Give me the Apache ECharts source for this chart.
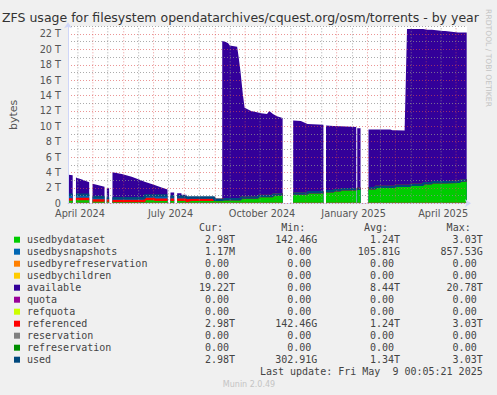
<!DOCTYPE html>
<html><head><meta charset="utf-8">
<script src="https://cdn.jsdelivr.net/npm/echarts@6/dist/echarts.min.js"></script>
<style>html,body{margin:0;padding:0;background:#f0f0f0}#c{width:497px;height:395px}</style>
</head><body><div id="c"></div>
<script>
// x positions: days from the left edge of the 400-day window (1 px per day)
const days = [0.5,4.7,6, 8,14,21.3,23, 24.7,36.7,38, 39,41.3,43,
  44.7,54,64,74,77,77.01,84,87,87.01,94,100,101.5,
  103,106.7,108, 109.7,114,114.01,119,119.01,124,147,147.01,155,
  155.01,158,161,162.5,170,171.5,173.3,174,174.01,175.7,177.5,184,191,191.01,194,200,202.3,206,206.01,210,215.7,221,
  226.3,234,240.7,240.71,256.7,258,
  259.3,267,267.01,274,274.01,289.7,290.2,
  290.7,294,298,
  302,309,309.01,324,326,329,329.01,338.3,
  340.7,344,344.01,357,357.01,361,365.7,365.71,377,379,379.01,392,394,394.01,400.7];
// values in T (terabytes); null = no data
const usedbydataset = [0.49,0.49,null, 0.55,0.55,0.55,null, 0.38,0.38,null, 0.35,0.35,null,
  0.30,0.30,0.30,0.30,0.30,0.56,0.56,0.56,0.45,0.45,0.45,null,
  0.45,0.45,null, 0.45,0.45,0.45,0.45,0.30,0.45,0.45,0.44,0.44,
  0.54,0.54,0.54,0.54,0.54,0.54,0.54,0.54,0.74,0.74,0.74,0.74,0.74,0.95,0.95,0.95,0.95,0.95,1.13,1.13,1.13,null,
  1.26,1.26,1.26,1.43,1.43,null,
  1.56,1.56,1.69,1.69,1.82,1.82,null,
  1.90,1.90,null,
  1.95,1.95,2.16,2.16,2.16,2.16,2.29,2.29,
  2.29,2.29,2.42,2.42,2.60,2.60,2.60,2.72,2.72,2.72,2.80,2.80,2.80,2.94,2.98];
const usedbysnapshots = [0.61,0.61,null, 0.57,0.57,0.57,null, 0.40,0.40,null, 0.35,0.35,null,
  0.35,0.35,0.35,0.35,0.35,0.44,0.44,0.44,0.55,0.55,0.55,null,
  0.43,0.43,null, 0.43,0.43,0.40,0.40,0.44,0.29,0.29,0.01,0.01,
  0,0,0,0,0,0,0,0,0,0,0,0,0,0,0,0,0,0,0,0,0,null,
  0,0,0,0,0,null,
  0,0,0,0,0,0,null,
  0,0,null,
  0,0,0,0,0,0,0,0,
  0,0,0,0,0,0,0,0,0,0,0,0,0,0,0];
const available = [2.60,2.55,null, 2.23,1.98,1.63,null, 1.77,1.37,null, 1.25,1.25,null,
  3.40,3.15,2.80,2.30,2.15,1.80,1.50,1.37,1.37,1.05,0.80,null,
  0.52,0.52,null, 0.42,0.42,0.25,0.25,0.08,0.08,0.08,0,0,
  20.56,20.46,20.26,19.96,19.81,18.46,16.66,15.79,15.56,13.46,11.66,11.26,11.06,10.85,10.75,10.65,11.05,10.65,10.47,10.17,9.97,null,
  9.49,9.44,9.04,8.87,8.77,null,
  8.54,8.49,8.36,8.31,8.18,8.08,null,
  7.85,7.85,null,
  7.65,7.65,7.44,7.44,7.34,7.34,7.21,7.16,
  20.36,20.36,20.23,20.23,20.00,19.95,19.95,19.83,19.68,19.68,19.60,19.40,19.40,19.26,19.22];
const referenced = usedbydataset.slice();
const used = [1.10,1.10,null, 1.12,1.12,1.12,null, 0.78,0.78,null, 0.70,0.70,null,
  0.65,0.65,0.65,0.65,0.65,1.00,1.00,1.00,1.00,1.00,1.00,null,
  0.88,0.88,null, 0.88,0.88,0.85,0.85,0.74,0.74,0.74,0.45,0.45,
  0.54,0.54,0.54,0.54,0.54,0.54,0.54,0.54,0.74,0.74,0.74,0.74,0.74,0.95,0.95,0.95,0.95,0.95,1.13,1.13,1.13,null,
  1.26,1.26,1.26,1.43,1.43,null,
  1.56,1.56,1.69,1.69,1.82,1.82,null,
  1.90,1.90,null,
  1.95,1.95,2.16,2.16,2.16,2.16,2.29,2.29,
  2.29,2.29,2.42,2.42,2.60,2.60,2.60,2.72,2.72,2.72,2.80,2.80,2.80,2.94,2.98];
// spans (in days) where the all-zero series have data
const zeroSegments = [[0.5,4.7],[8,21.3],[24.7,36.7],[39,41.3],[44.7,100],[103,106.7],[109.7,215.7],
  [226.3,256.7],[259.3,289.7],[290.7,294],[302,400.7]];

const xLabelDays = [12,103,195,287,377];
const xLabels = ['April 2024','July 2024','October 2024','January 2025','April 2025'];
const majorGridDays = [25,56,86,117,148,178,209,239,270,301,329,360,390];
const minorGridDays = [10,40,71,101,132,163,193,224,255,286,314,345,375];

const seriesNames = ['usedbydataset','usedbysnapshots','usedbyrefreservation','usedbychildren','available',
  'quota','refquota','referenced','reservation','refreservation','used'];
const seriesColors = ['#00cc00','#0066b3','#ff8000','#ffcc00','#330099','#990099','#ccff00','#ff0000','#808080','#008f00','#00487d'];
const statCur = ['2.98T','1.17M','0.00','0.00','19.22T','0.00','0.00','2.98T','0.00','0.00','2.98T'];
const statMin = ['142.46G','0.00','0.00','0.00','0.00','0.00','0.00','142.46G','0.00','0.00','302.91G'];
const statAvg = ['1.24T','105.81G','0.00','0.00','8.44T','0.00','0.00','1.24T','0.00','0.00','1.34T'];
const statMax = ['3.03T','857.53G','0.00','0.00','20.78T','0.00','0.00','3.03T','0.00','0.00','3.03T'];

const Y_MAX = 23;
// stacked tops (areas are drawn back-to-front, each filled down to the axis)
const stackTop = layers => days.map((d, i) => {
  let s = 0;
  for (const l of layers) { if (l[i] == null) return [d, null]; s += l[i]; }
  return [d, +s.toFixed(4)];
});
const zeroPts = (() => { const a = []; zeroSegments.forEach(s => { a.push([s[0],0],[s[1],0],[s[1]+0.3,null]); }); return a; })();
const vLines = list => { const a = []; list.forEach(d => { a.push([d,0],[d,Y_MAX],[d,null]); }); return a; };

function areaSeries(i, data, z){
  return {name: seriesNames[i], type:'line', data: data, color: seriesColors[i], z: z,
    symbol:'none', lineStyle:{width:0}, areaStyle:{color: seriesColors[i], opacity:1, origin:'start'}, silent:true};
}
function lineSeries(i, data, w, z){
  return {name: seriesNames[i], type:'line', data: data, color: seriesColors[i], z: z,
    symbol:'none', lineStyle:{width:w, color: seriesColors[i]}, silent:true};
}

const series = [
  areaSeries(4, stackTop([usedbydataset, usedbysnapshots, available]), 2),
  areaSeries(1, stackTop([usedbydataset, usedbysnapshots]), 3),
  areaSeries(0, stackTop([usedbydataset]), 4),
  lineSeries(2, zeroPts, 1, 5),
  lineSeries(3, zeroPts, 1, 5),
  lineSeries(5, zeroPts, 1, 5),
  lineSeries(6, zeroPts, 1, 5),
  lineSeries(7, days.map((d, i) => [d, referenced[i]]), 2.5, 6),
  lineSeries(8, zeroPts, 1, 7),
  lineSeries(9, zeroPts, 1.5, 8),
  lineSeries(10, days.map((d, i) => [d, used[i]]), 2.5, 9),
  {name:'major grid', type:'line', data: vLines(majorGridDays), z:20, symbol:'none', silent:true, connectNulls:false,
    lineStyle:{color:'rgba(222,79,79,0.6)', type:[1,2], width:1}},
  {name:'minor grid', type:'line', data: vLines(minorGridDays), z:20, symbol:'none', silent:true, connectNulls:false,
    lineStyle:{color:'rgba(143,143,143,0.75)', type:[1,2], width:1}}
];

const colRight = [235, 317.3, 400, 482.7];
const headers = ['Cur:','Min:','Avg:','Max:'];
const mono = '10px "DejaVu Sans Mono"';
const tstyle = (text, font, fill, align) => ({text, font, fill, align, verticalAlign:'middle', textAlign:align, textVerticalAlign:'middle'});
const graphics = [];
headers.forEach((h, j) => graphics.push({type:'text', x: colRight[j]-12, y:227.7, style: tstyle(h, mono, '#444', 'right')}));
[statCur, statMin, statAvg, statMax].forEach((col, j) => col.forEach((v, i) => {
  const hasUnit = /[A-Za-z]$/.test(v);
  graphics.push({type:'text', x: colRight[j] - (hasUnit ? 0 : 6.02), y: 239.7 + 12*i, style: tstyle(v, mono, '#444', 'right')});
}));
graphics.push({type:'text', x:482.7, y:371.7, style: tstyle('Last update: Fri May  9 00:05:21 2025', mono, '#444', 'right')});
graphics.push({type:'text', x:249, y:384.3, style: tstyle('Munin 2.0.49', '8px "DejaVu Sans"', '#c4c4c4', 'center')});
graphics.push({type:'text', x:488.5, y:58, rotation:-Math.PI/2, style: tstyle('RRDTOOL / TOBI OETIKER', '7.6px "DejaVu Sans"', '#c4c4c4', 'center')});

const chart = echarts.init(document.getElementById('c'), null, {renderer:'svg'});
chart.setOption({
  animation:false,
  backgroundColor:'#f0f0f0',
  title:{text:'ZFS usage for filesystem opendatarchives/cquest.org/osm/torrents - by year', left:2, top:11, padding:0,
    textStyle:{fontFamily:'DejaVu Sans', fontSize:12.5, fontWeight:'normal', color:'#333'}},
  grid:{left:66, right:30, top:26.3, bottom:191.7, show:true, backgroundColor:'#ffffff', borderWidth:0},
  legend:{data:seriesNames, orient:'vertical', left:14, top:233.7, padding:0, itemGap:0, itemWidth:6, itemHeight:6,
    icon:'rect', selectedMode:false, itemStyle:{borderWidth:0},
    textStyle:{fontFamily:'DejaVu Sans Mono', fontSize:10, lineHeight:12, color:'#444', padding:[0,0,0,2]}},
  xAxis:{type:'value', min:0, max:401, z:10,
    axisLine:{show:true, lineStyle:{color:'#cfd6f8', width:1}, symbol:['none','arrow'], symbolSize:[6,6], symbolOffset:[0,4]},
    axisTick:{show:false}, splitLine:{show:false},
    axisLabel:{customValues:xLabelDays, formatter: v => xLabels[xLabelDays.indexOf(v)] || '', margin:5.5, lineHeight:9,
      fontFamily:'DejaVu Sans', fontSize:9.7, color:'#555'}},
  yAxis:{type:'value', min:0, max:Y_MAX, interval:1, z:12,
    name:'bytes', nameLocation:'middle', nameGap:49, nameTextStyle:{fontFamily:'DejaVu Sans', fontSize:11, color:'#555'},
    axisLine:{show:true, lineStyle:{color:'#cfd6f8', width:1}, symbol:['none','arrow'], symbolSize:[6,6], symbolOffset:[0,4]},
    axisTick:{show:false},
    splitLine:{show:true, lineStyle:{color:['rgba(222,79,79,0.6)','rgba(143,143,143,0.75)'], type:[1,2], width:1}},
    axisLabel:{margin:7, lineHeight:9, fontFamily:'DejaVu Sans', fontSize:9.7, color:'#555',
      formatter: v => (v % 2 !== 0) ? '' : (v === 0 ? '0' : v + ' T')}},
  series: series,
  graphic: graphics
});
</script></body></html>
